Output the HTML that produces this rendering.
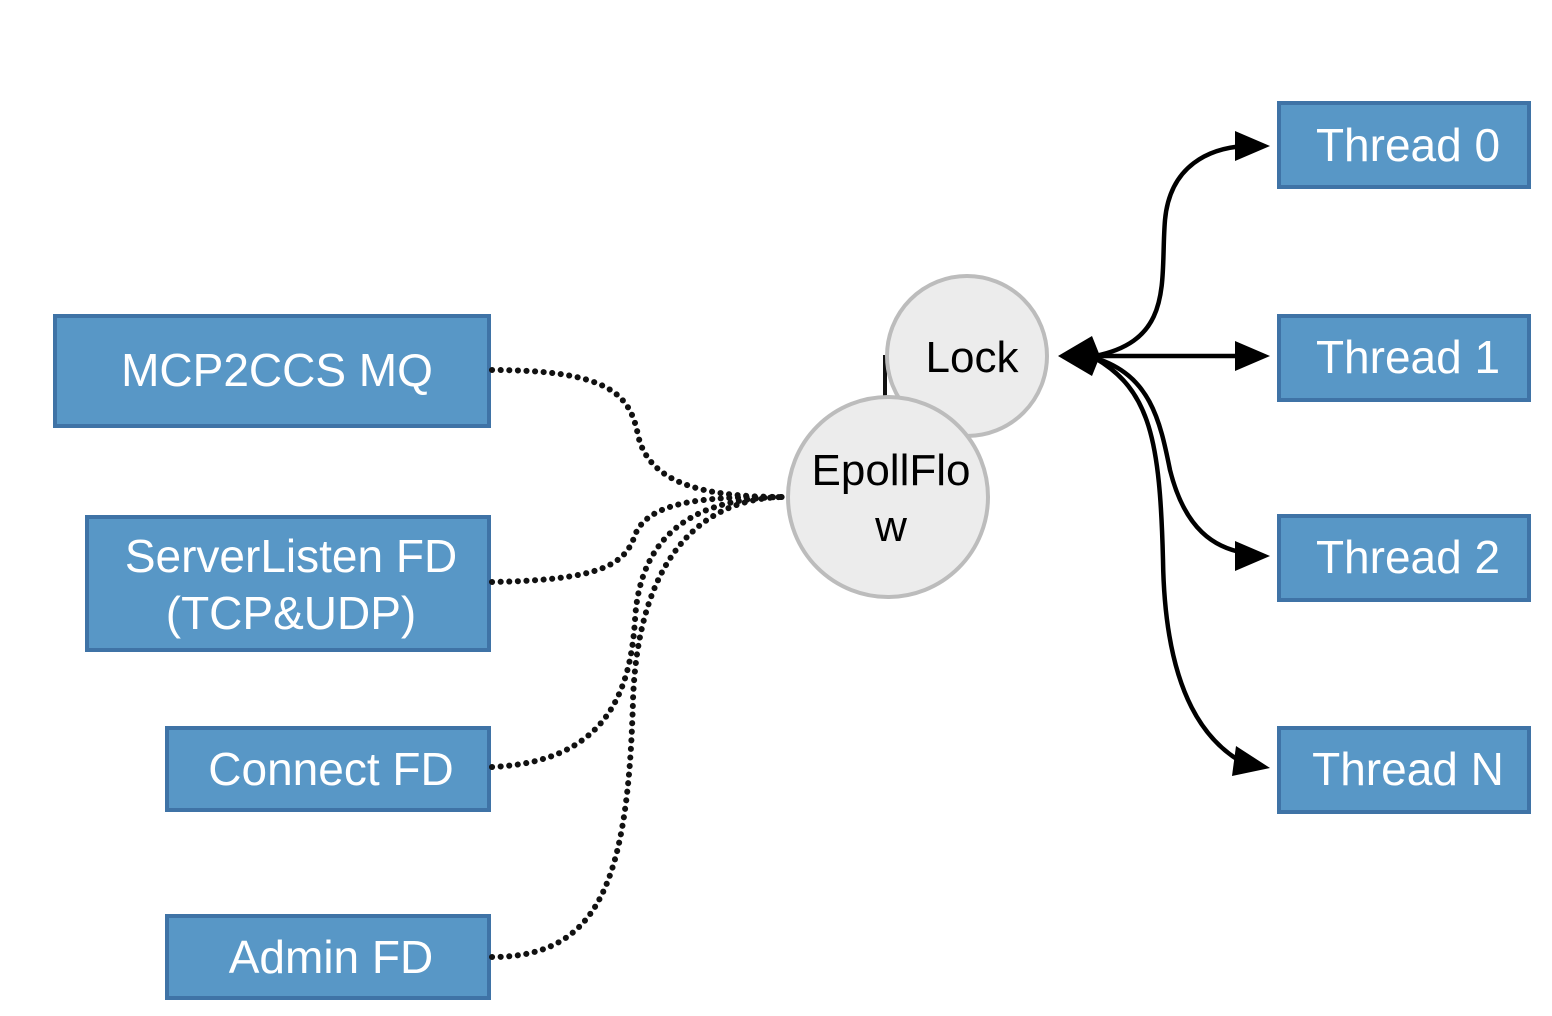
<!DOCTYPE html>
<html><head><meta charset="utf-8"><style>
html,body{margin:0;padding:0;background:#fff;}
svg{display:block;}
text{font-family:"Liberation Sans",Arial,sans-serif;}
</style></head><body>
<svg width="1552" height="1016" viewBox="0 0 1552 1016" xmlns="http://www.w3.org/2000/svg">
<g fill="#5897c6" stroke="#3f73a6" stroke-width="4">
<rect x="55" y="316" width="434" height="110"/>
<rect x="87" y="517" width="402" height="133"/>
<rect x="167" y="728" width="322" height="82"/>
<rect x="167" y="916" width="322" height="82"/>
<rect x="1279" y="103" width="250" height="84"/>
<rect x="1279" y="316" width="250" height="84"/>
<rect x="1279" y="516" width="250" height="84"/>
<rect x="1279" y="728" width="250" height="84"/>
</g>
<g fill="#fff" font-size="46" text-anchor="middle">
<text x="277" y="386">MCP2CCS MQ</text>
<text x="291" y="572">ServerListen FD</text>
<text x="291" y="629">(TCP&amp;UDP)</text>
<text x="331" y="785">Connect FD</text>
<text x="331" y="973">Admin FD</text>
<text x="1408" y="161">Thread 0</text>
<text x="1408" y="373">Thread 1</text>
<text x="1408" y="573">Thread 2</text>
<text x="1408" y="785">Thread N</text>
</g>
<g fill="none" stroke="#111" stroke-width="6" stroke-dasharray="0.1 8.5" stroke-linecap="round">
<path d="M492,370 C610,370 630,395 638,435 C650,490 720,497 786,497"/>
<path d="M492,582 C600,580 625,565 635,535 C650,497 720,497 786,497"/>
<path d="M492,767 C600,762 630,700 635,620 C640,530 700,497 786,497"/>
<path d="M492,957 C600,957 628,880 633,700 C638,560 700,497 786,497"/>
</g>
<line x1="885" y1="398" x2="885" y2="355" stroke="#111" stroke-width="4"/>
<circle cx="967" cy="356" r="80" fill="#ececec" stroke="#bcbcbc" stroke-width="4"/>
<circle cx="888" cy="497" r="100" fill="#ececec" stroke="#bcbcbc" stroke-width="4"/>
<g fill="#000" font-size="44" text-anchor="middle">
<text x="972" y="372">Lock</text>
<text x="891" y="485">EpollFlo</text>
<text x="891" y="541">w</text>
</g>
<g fill="none" stroke="#000" stroke-width="4.5">
<path d="M1095,356 C1175,340 1160,280 1165,220 C1170,165 1210,148 1245,146"/>
<path d="M1095,356 L1245,356"/>
<path d="M1095,358 C1150,375 1160,420 1170,470 C1185,530 1215,548 1245,553"/>
<path d="M1095,358 C1150,390 1160,440 1163,560 C1165,700 1210,745 1245,764"/>
</g>
<g fill="#000">
<polygon points="1058,356 1092,336 1100,356 1092,376"/>
<polygon points="1270,146 1235,131 1235,161"/>
<polygon points="1270,356 1235,341 1235,371"/>
<polygon points="1270,556 1235,541 1235,571"/>
<polygon points="1270,768 1236,746 1232,776"/>
</g>
</svg>
</body></html>
